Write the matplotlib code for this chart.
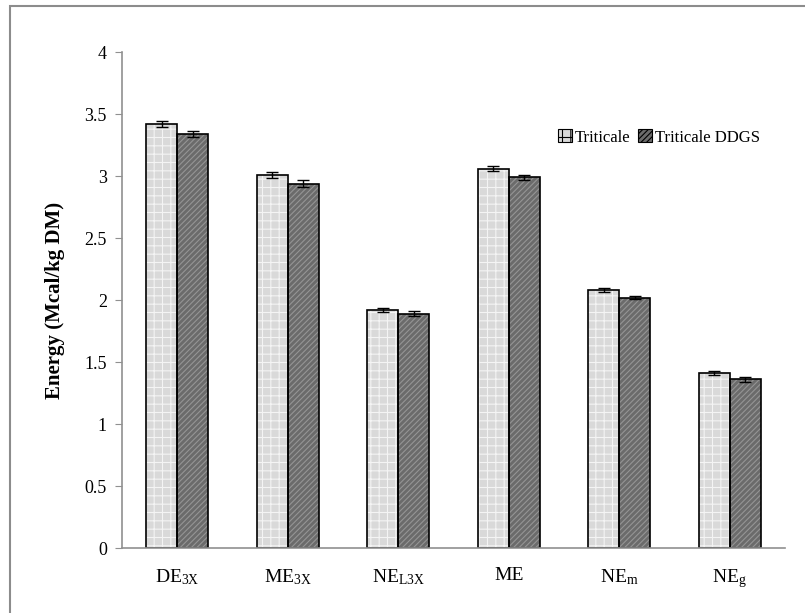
import matplotlib
matplotlib.use('Agg')
import matplotlib.pyplot as plt
import numpy as np
from matplotlib.patches import Rectangle

plt.rcParams['font.family'] = 'Liberation Serif'
plt.rcParams['mathtext.fontset'] = 'custom'
plt.rcParams['mathtext.rm'] = 'Liberation Serif'
plt.rcParams['mathtext.it'] = 'Liberation Serif'
plt.rcParams['hatch.linewidth'] = 0.8

# energy values per feed
categories = [r'DE$_{\rm 3X}$', r'ME$_{\rm 3X}$', r'NE$_{\rm L3X}$', 'ME', r'NE$_{\rm m}$', r'NE$_{\rm g}$']
triticale = [3.42, 3.01, 1.92, 3.06, 2.08, 1.41]
triticale_err = [0.025, 0.025, 0.02, 0.022, 0.018, 0.018]
ddgs = [3.34, 2.94, 1.89, 2.99, 2.02, 1.36]
ddgs_err = [0.022, 0.025, 0.018, 0.02, 0.015, 0.017]

fig = plt.figure(figsize=(8.05, 6.13), dpi=100)
ax = fig.add_axes([0.1516, 0.106, 0.8234, 0.809])

x = np.arange(len(categories))
w = 0.28

# textured fill first (hatch takes the edge colour), black outline on top
ax.bar(x - w/2, triticale, w, color='#d9d9d9', edgecolor='#f4f4f4', linewidth=0,
       hatch='++', label='Triticale')
ax.bar(x + w/2, ddgs, w, color='#6b6b6b', edgecolor='#959595', linewidth=0,
       hatch='//////', label='Triticale DDGS')
ax.bar(x - w/2, triticale, w, fill=False, edgecolor='black', linewidth=1.2)
ax.bar(x + w/2, ddgs, w, fill=False, edgecolor='black', linewidth=1.2)

ax.errorbar(x - w/2, triticale, yerr=triticale_err, fmt='none', ecolor='black',
            elinewidth=1, capsize=4, capthick=1)
ax.errorbar(x + w/2, ddgs, yerr=ddgs_err, fmt='none', ecolor='black',
            elinewidth=1, capsize=4, capthick=1)

ax.set_xlim(-0.5, len(categories) - 0.5)
ax.set_ylim(0, 4)
ax.set_yticks(np.arange(0, 4.01, 0.5))
ax.set_yticklabels(['0', '0.5', '1', '1.5', '2', '2.5', '3', '3.5', '4'])
ax.set_xticks(x)
ax.set_xticklabels(categories)
ax.tick_params(axis='x', length=0, pad=14, labelsize=14)
ax.tick_params(axis='y', length=5, color='#909090', direction='out', pad=6, labelsize=13)
for s in ['top', 'right']:
    ax.spines[s].set_visible(False)
for s in ['left', 'bottom']:
    ax.spines[s].set_color('#909090')
    ax.spines[s].set_linewidth(1.2)

ax.set_ylabel('Energy (Mcal/kg DM)', fontsize=15, fontweight='bold', labelpad=14)

handles, labels = ax.get_legend_handles_labels()
leg = ax.legend(handles[:2], labels[:2], loc='upper right', bbox_to_anchor=(0.985, 0.875),
                frameon=False, fontsize=12, ncol=2, handlelength=0.85, handleheight=0.85,
                handletextpad=0.15, columnspacing=0.5)
for h in leg.legend_handles:
    h.set_edgecolor('black')
    h.set_linewidth(0.8)

# outer frame around the chart
fig.patches.append(Rectangle((10/805, -0.1), 1.2, 1.1 - 6/613, transform=fig.transFigure,
                             fill=False, edgecolor='#8c8c8c', linewidth=1.5))

fig.savefig('out.png', dpi=100)
